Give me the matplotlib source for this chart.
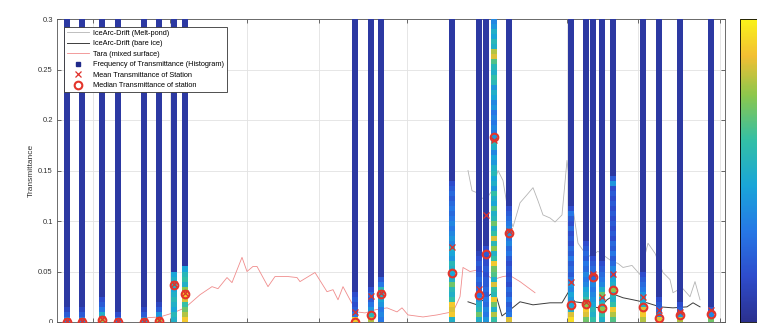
# Transmittance histograms per station with drift / Tara time series
import numpy as np
import matplotlib
matplotlib.use("Agg")
import matplotlib.pyplot as plt
from matplotlib.colors import LinearSegmentedColormap

plt.rcParams['font.family'] = ['Liberation Sans', 'DejaVu Sans']

# station positions (days along the x axis), median / mean transmittance
station_x = [10, 25, 45, 61, 87, 102, 117, 128, 298, 314, 324, 395, 422, 429,
             437, 452, 514, 529, 536, 545, 556, 586, 602, 623, 654]
station_median = [0, 0, 0.002, 0, 0, 0.001, 0.037, 0.028, 0, 0.007, 0.028, 0.049,
                  0.027, 0.067, 0.183, 0.088, 0.017, 0.018, 0.045, 0.014, 0.032,
                  0.015, 0.004, 0.007, 0.008]
station_mean = [0.001, 0.001, 0.003, 0.001, 0.001, 0.002, 0.038, 0.029, 0.01, 0.026,
                0.029, 0.074, 0.033, 0.106, 0.18, 0.09, 0.04, 0.02, 0.048, 0.025,
                0.048, 0.025, 0.012, 0.01, 0.012]

# histogram frequency per 0.005 bin, from the bottom up; higher bins are low
hist_base = 0.05
hist_low = [
    [0.35, 0.2, 0.12],
    [0.35, 0.2, 0.12],
    [0.8, 0.5, 0.3, 0.2, 0.15],
    [0.3, 0.15],
    [0.4, 0.2, 0.12],
    [0.8, 0.4, 0.2, 0.12],
    [0.5, 0.55, 0.45, 0.5, 0.55, 0.5, 0.45, 0.55, 0.5, 0.45],
    [0.9, 0.8, 0.7, 0.6, 0.85, 0.9, 0.75, 0.5, 0.6, 0.55, 0.45],
    [0.9, 0.3, 0.2, 0.15, 0.2, 0.15],
    [0.8, 0.55, 0.4, 0.3, 0.2, 0.25, 0.15],
    [0.3, 0.35, 0.3, 0.4, 0.45, 0.5, 0.55, 0.3, 0.2],
    [0.5, 0.9, 0.85, 0.9, 0.6, 0.5, 0.55, 0.7, 0.5, 0.45, 0.5, 0.55, 0.4, 0.45,
     0.5, 0.35, 0.4, 0.35, 0.3, 0.35, 0.3, 0.25, 0.3, 0.25, 0.2, 0.25, 0.2, 0.15],
    [0.5, 0.7, 0.55, 0.5, 0.4, 0.3, 0.25, 0.2, 0.25, 0.2, 0.15, 0.2, 0.15, 0.1],
    [0.4, 0.3, 0.35, 0.25, 0.3, 0.2, 0.25, 0.2, 0.2, 0.15, 0.2, 0.15, 0.15, 0.2, 0.15],
    [0.6, 0.8, 0.5, 0.7, 0.9, 0.55, 0.6, 0.85, 0.5, 0.65,
     0.7, 0.9, 0.6, 0.5, 0.75, 0.55, 0.85, 0.6, 0.5, 0.7,
     0.55, 0.5, 0.65, 0.45, 0.5, 0.6, 0.4, 0.5, 0.45, 0.55,
     0.5, 0.4, 0.45, 0.35, 0.5, 0.55, 0.4, 0.3, 0.35, 0.3,
     0.35, 0.3, 0.4, 0.35, 0.45, 0.5, 0.4, 0.55, 0.6, 0.5,
     0.55, 0.65, 0.85, 0.8, 0.5, 0.55, 0.45, 0.5, 0.4, 0.35],
    [0.85, 0.3, 0.25, 0.2, 0.3, 0.2, 0.25, 0.15, 0.2, 0.15, 0.2, 0.15, 0.2, 0.3,
     0.25, 0.35, 0.3, 0.4, 0.35, 0.3, 0.25, 0.2, 0.15],
    [0.95, 0.85, 0.5, 0.45, 0.4, 0.45, 0.35, 0.4, 0.3, 0.2, 0.25, 0.2, 0.3, 0.2,
     0.25, 0.15, 0.2, 0.15, 0.25, 0.15, 0.2, 0.3, 0.15],
    [0.7, 0.85, 0.9, 0.75, 0.6, 0.5, 0.45, 0.35, 0.3, 0.35, 0.25, 0.3, 0.2, 0.25, 0.2, 0.15],
    [0.6, 0.5, 0.55, 0.45, 0.4, 0.35, 0.3, 0.35, 0.25, 0.2, 0.25, 0.2, 0.15],
    [0.5, 0.6, 0.75, 0.55, 0.45, 0.7, 0.5, 0.35, 0.3, 0.25, 0.2, 0.15],
    [0.65, 0.8, 0.9, 0.6, 0.5, 0.55, 0.75, 0.5, 0.45, 0.3, 0.35, 0.25, 0.2, 0.3,
     0.2, 0.25, 0.15, 0.2, 0.15, 0.2, 0.15, 0.2, 0.15, 0.2, 0.15, 0.2, 0.15, 0.4, 0.2],
    [0.8, 0.9, 0.85, 0.5, 0.45, 0.4, 0.3, 0.25, 0.2, 0.15],
    [0.85, 0.35, 0.25, 0.2, 0.15],
    [0.8, 0.4, 0.2, 0.15],
    [0.7, 0.35, 0.2],
]

# IceArc-Drift melt pond
melt_x = [411, 415, 420, 428, 435, 441, 446, 451, 456, 463, 470, 476, 481, 486, 493,
          498, 505, 510, 515, 521, 526, 533, 541, 548, 555, 561, 566, 575, 583, 591,
          598, 606, 613, 616, 625, 633, 638, 643]
melt_y = [0.15, 0.13, 0.128, 0.12, 0.13, 0.15, 0.14, 0.11, 0.094, 0.118, 0.126, 0.133,
          0.12, 0.106, 0.103, 0.099, 0.106, 0.16, 0.12, 0.078, 0.071, 0.065, 0.07,
          0.065, 0.06, 0.058, 0.054, 0.056, 0.047, 0.078, 0.068, 0.049, 0.042, 0.029,
          0.034, 0.025, 0.04, 0.022]
# IceArc-Drift bare ice
bare_x = [411, 420, 430, 438, 445, 453, 463, 476, 493, 505, 511, 518, 525, 535, 543,
          550, 558, 566, 576, 590, 603, 616, 630, 636, 643]
bare_y = [0.02, 0.017, 0.025, 0.03, 0.006, 0.012, 0.02, 0.017, 0.019, 0.019, 0.029,
          0.02, 0.019, 0.015, 0.014, 0.022, 0.027, 0.024, 0.022, 0.019, 0.015, 0.014,
          0.015, 0.019, 0.015]
# Tara mixed surface
tara_x = [86, 103, 116, 128, 143, 155, 161, 170, 175, 185, 190, 196, 200, 211, 218,
          231, 240, 243, 258, 270, 276, 281, 286, 293, 300, 308, 318, 330, 340, 345,
          351, 366, 380, 390, 396, 403, 406, 413, 423, 436, 446, 453, 463, 478]
tara_y = [0.004, 0.005, 0.009, 0.014, 0.027, 0.035, 0.033, 0.044, 0.039, 0.064, 0.05,
          0.055, 0.055, 0.035, 0.045, 0.045, 0.044, 0.04, 0.049, 0.03, 0.032, 0.022,
          0.035, 0.022, 0.01, 0.009, 0.012, 0.014, 0.01, 0.014, 0.007, 0.005, 0.007,
          0.009, 0.01, 0.025, 0.054, 0.05, 0.052, 0.042, 0.045, 0.046, 0.04, 0.029]

grid_x = [36, 113, 190, 262, 350, 430, 510, 581, 663]
y_ticks = [0, 0.05, 0.1, 0.15, 0.2, 0.25, 0.3]

parula = LinearSegmentedColormap.from_list('parula_like', [
    (0.0, (0.17, 0.19, 0.56)),
    (0.15, (0.18, 0.30, 0.80)),
    (0.3, (0.15, 0.47, 0.90)),
    (0.45, (0.10, 0.65, 0.85)),
    (0.6, (0.20, 0.75, 0.65)),
    (0.75, (0.55, 0.78, 0.30)),
    (0.88, (0.95, 0.75, 0.20)),
    (1.0, (0.98, 0.95, 0.10)),
])

fig = plt.figure(figsize=(7.57, 3.23), dpi=100)
ax = fig.add_axes([57 / 757, 1 / 323, 668 / 757, 303 / 323])

# lines first, columns drawn over them
l_melt, = ax.plot(melt_x, melt_y, color='#b4b4b4', lw=0.6, zorder=2,
                  label='IceArc-Drift (Melt-pond)')
l_bare, = ax.plot(bare_x, bare_y, color='#3c3c3c', lw=0.7, zorder=2,
                  label='IceArc-Drift (bare ice)')
l_tara, = ax.plot(tara_x, tara_y, color='#f08c8c', lw=0.6, zorder=2,
                  label='Tara (mixed surface)')

nbins = 60
y_edges = np.linspace(0, 0.3, nbins + 1)
col_w = 6
for xs, low in zip(station_x, hist_low):
    vals = np.full(nbins, hist_base)
    vals[:len(low)] = low
    ax.pcolormesh([xs - col_w / 2, xs + col_w / 2], y_edges, vals.reshape(-1, 1),
                  cmap=parula, vmin=0, vmax=1, zorder=3)

l_hist, = ax.plot([], [], 's', color='#1f2a8a', ms=2.2,
                  label='Frequency of Transmittance (Histogram)')
l_mean, = ax.plot(station_x, station_mean, 'x', color='#e0302a', ms=4, mew=0.9,
                  zorder=5, label='Mean Transmittance of Station')
l_med, = ax.plot(station_x, station_median, 'o', mfc='none', mec='#e3342b', ms=5.5,
                 mew=1.5, zorder=6, label='Median Transmittance of station')

ax.set_xlim(0, 668)
ax.set_ylim(0, 0.3)
ax.set_xticks(grid_x)
ax.set_xticklabels([])
ax.set_yticks(y_ticks)
ax.set_yticklabels(['0', '0.05', '0.1', '0.15', '0.2', '0.25', '0.3'])
ax.tick_params(direction='in', top=True, right=True, length=3, width=0.5,
               labelsize=5.5, labelcolor='#333333', color='#333333', pad=3)
ax.grid(True, color='#e2e2e2', lw=0.6, zorder=0)
ax.set_axisbelow(True)
for s in ax.spines.values():
    s.set_linewidth(0.6)
    s.set_color('#555555')
ax.set_ylabel('Transmittance', fontsize=6, color='#333333', labelpad=2)

leg = ax.legend(handles=[l_melt, l_bare, l_tara, l_hist, l_mean, l_med],
                loc='upper left', bbox_to_anchor=(0.0105, 0.974), borderaxespad=0,
                fontsize=5.3, frameon=True, fancybox=False, framealpha=1,
                edgecolor='#333333', handlelength=3.0, handletextpad=0.6,
                labelspacing=0.45, borderpad=0.4)
leg.get_frame().set_linewidth(0.6)
leg.set_zorder(10)

# colorbar, cut off at the right edge like the source
cax = fig.add_axes([740 / 757, 1 / 323, 30 / 757, 303 / 323])
sm = plt.cm.ScalarMappable(cmap=parula, norm=plt.Normalize(0, 1))
cb = fig.colorbar(sm, cax=cax, ticks=np.arange(0, 1.01, 0.1))
cb.outline.set_linewidth(0.6)
cax.tick_params(direction='in', length=2, width=0.5, labelright=False)

fig.savefig('out.png', dpi=100)
